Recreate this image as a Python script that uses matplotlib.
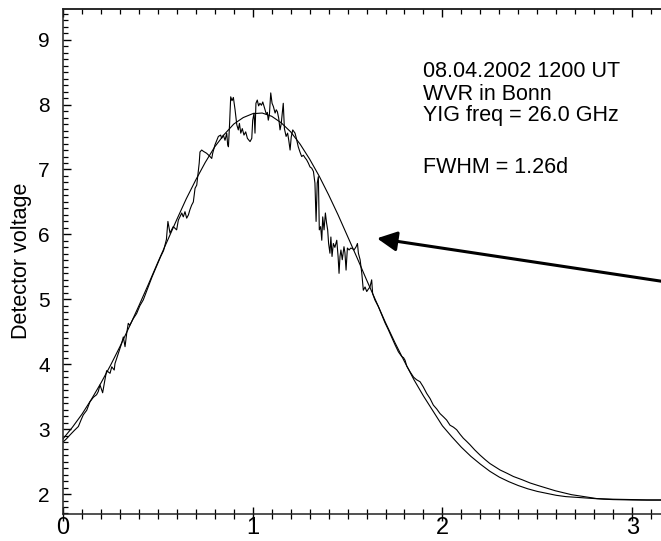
import numpy as np
import matplotlib
matplotlib.use("Agg")
import matplotlib.pyplot as plt
from matplotlib.ticker import MultipleLocator

plt.rcParams["font.family"] = ["Liberation Sans", "DejaVu Sans"]

t_meas = [0.000, 0.018, 0.037, 0.060, 0.081, 0.095, 0.107, 0.125, 0.142, 0.160,
          0.177, 0.186, 0.195, 0.209, 0.221, 0.230, 0.248, 0.257, 0.270, 0.274,
          0.292, 0.309, 0.318, 0.327, 0.336, 0.344, 0.352, 0.370, 0.388, 0.405,
          0.423, 0.445, 0.470, 0.495, 0.515, 0.530, 0.545, 0.553, 0.564, 0.581,
          0.599, 0.608, 0.626, 0.634, 0.643, 0.652, 0.661, 0.669, 0.678, 0.687,
          0.696, 0.705, 0.710, 0.718, 0.722, 0.731, 0.740, 0.757, 0.775, 0.784,
          0.789, 0.801, 0.819, 0.831, 0.836, 0.845, 0.854, 0.863, 0.868, 0.872,
          0.878, 0.884, 0.891, 0.898, 0.907, 0.916, 0.924, 0.930, 0.937, 0.945,
          0.954, 0.963, 0.972, 0.986, 0.995, 1.000, 1.007, 1.012, 1.017, 1.024,
          1.031, 1.038, 1.046, 1.053, 1.060, 1.065, 1.072, 1.077, 1.082, 1.088,
          1.095, 1.102, 1.109, 1.118, 1.124, 1.130, 1.137, 1.144, 1.150, 1.161,
          1.167, 1.176, 1.184, 1.190, 1.197, 1.203, 1.211, 1.223, 1.230, 1.240,
          1.249, 1.258, 1.267, 1.276, 1.284, 1.293, 1.302, 1.311, 1.320, 1.328,
          1.334, 1.340, 1.346, 1.351, 1.358, 1.364, 1.369, 1.376, 1.383, 1.389,
          1.395, 1.400, 1.407, 1.412, 1.418, 1.425, 1.433, 1.443, 1.450, 1.455,
          1.460, 1.465, 1.472, 1.481, 1.486, 1.492, 1.499, 1.508, 1.517, 1.526,
          1.534, 1.545, 1.552, 1.557, 1.566, 1.575, 1.583, 1.592, 1.601, 1.610,
          1.618, 1.627, 1.632, 1.644, 1.662, 1.680, 1.697, 1.715, 1.733, 1.750,
          1.768, 1.785, 1.795, 1.803, 1.812, 1.830, 1.848, 1.864, 1.882, 1.899,
          1.917, 1.935, 1.952, 1.970, 1.987, 2.005, 2.022, 2.040, 2.058, 2.075,
          2.093, 2.110, 2.128, 2.145, 2.170, 2.198, 2.225, 2.250, 2.277, 2.304,
          2.340, 2.374, 2.420, 2.462, 2.505, 2.550, 2.595, 2.637, 2.680, 2.725,
          2.770, 2.813, 2.860, 2.900, 2.990, 3.077, 3.150]
v_meas = [2.80, 2.85, 2.91, 2.98, 3.04, 3.14, 3.22, 3.29, 3.42, 3.49,
          3.53, 3.58, 3.68, 3.56, 3.76, 3.90, 3.86, 3.96, 3.91, 4.01,
          4.17, 4.32, 4.42, 4.27, 4.48, 4.63, 4.60, 4.70, 4.78, 4.90,
          4.99, 5.16, 5.35, 5.52, 5.66, 5.75, 5.92, 6.20, 6.02, 6.12,
          6.07, 6.22, 6.33, 6.27, 6.35, 6.25, 6.30, 6.38, 6.45, 6.50,
          6.71, 6.76, 6.89, 7.10, 7.27, 7.30, 7.28, 7.25, 7.20, 7.17,
          7.25, 7.38, 7.51, 7.53, 7.48, 7.53, 7.45, 7.56, 7.38, 7.35,
          7.70, 8.12, 8.06, 8.11, 7.92, 7.69, 7.61, 7.71, 7.56, 7.63,
          7.53, 7.58, 7.48, 7.43, 7.48, 7.76, 7.87, 7.56, 8.02, 8.07,
          7.98, 8.02, 7.99, 8.04, 7.97, 7.92, 7.85, 7.88, 7.76, 7.85,
          8.18, 8.02, 7.97, 7.87, 7.92, 7.89, 7.79, 7.61, 7.70, 8.02,
          7.63, 7.51, 7.56, 7.45, 7.30, 7.50, 7.61, 7.56, 7.48, 7.35,
          7.27, 7.20, 7.22, 7.18, 7.15, 7.10, 7.04, 7.02, 6.97, 6.79,
          6.20, 6.79, 6.89, 6.07, 6.12, 5.91, 6.27, 6.07, 6.33, 6.18,
          6.07, 5.86, 5.71, 5.96, 5.66, 5.86, 5.80, 5.91, 5.66, 5.40,
          5.66, 5.76, 5.61, 5.81, 5.72, 5.45, 5.79, 5.76, 5.79, 5.78,
          5.76, 5.81, 5.86, 5.71, 5.61, 5.40, 5.14, 5.19, 5.12, 5.16,
          5.19, 5.30, 5.09, 4.99, 4.89, 4.76, 4.64, 4.53, 4.41, 4.30,
          4.19, 4.12, 4.10, 4.06, 3.97, 3.88, 3.80, 3.76, 3.73, 3.65,
          3.55, 3.47, 3.37, 3.31, 3.24, 3.19, 3.14, 3.06, 3.03, 2.99,
          2.92, 2.86, 2.81, 2.76, 2.68, 2.60, 2.53, 2.47, 2.42, 2.37,
          2.32, 2.27, 2.22, 2.17, 2.13, 2.09, 2.05, 2.02, 1.99, 1.97,
          1.95, 1.93, 1.925, 1.92, 1.915, 1.91, 1.91]

# fitted curve (every 0.05 d)
t_fit = [0.00, 0.05, 0.10, 0.15, 0.20, 0.25, 0.30, 0.35, 0.40, 0.45,
         0.50, 0.55, 0.60, 0.65, 0.70, 0.75, 0.80, 0.85, 0.90, 0.95,
         1.00, 1.05, 1.10, 1.15, 1.20, 1.25, 1.30, 1.35, 1.40, 1.45,
         1.50, 1.55, 1.60, 1.65, 1.70, 1.75, 1.80, 1.85, 1.90, 1.95,
         2.00, 2.05, 2.10, 2.15, 2.20, 2.25, 2.30, 2.35, 2.40, 2.45,
         2.50, 2.55, 2.60, 2.65, 2.70, 2.75, 2.80, 2.85, 2.90, 2.95,
         3.00, 3.05, 3.10, 3.15]
v_fit = [2.85, 3.03, 3.23, 3.46, 3.71, 3.98, 4.27, 4.58, 4.90, 5.23,
         5.57, 5.90, 6.23, 6.55, 6.84, 7.11, 7.35, 7.54, 7.70, 7.80,
         7.86, 7.87, 7.82, 7.72, 7.58, 7.39, 7.16, 6.90, 6.61, 6.30,
         5.97, 5.64, 5.30, 4.97, 4.64, 4.33, 4.04, 3.76, 3.51, 3.28,
         3.05, 2.88, 2.72, 2.58, 2.46, 2.35, 2.26, 2.19, 2.13, 2.08,
         2.04, 2.01, 1.98, 1.96, 1.95, 1.94, 1.93, 1.92, 1.914, 1.911,
         1.908, 1.906, 1.905, 1.905]

info_lines = ["08.04.2002 1200 UT", "WVR in Bonn", "YIG freq = 26.0 GHz"]
fwhm_text = "FWHM = 1.26d"

fig = plt.figure(figsize=(6.61, 5.41), dpi=100)
ax = fig.add_axes([0.0953, 0.0499, 0.9047, 0.9342])

ax.plot(t_meas, v_meas, color="black", lw=0.8)
ax.plot(t_fit, v_fit, color="black", lw=0.8)

ax.set_xlim(0, 3.152)
ax.set_ylim(1.692, 9.479)

ax.xaxis.set_major_locator(MultipleLocator(1))
ax.xaxis.set_minor_locator(MultipleLocator(0.1))
ax.yaxis.set_major_locator(MultipleLocator(1))
ax.yaxis.set_minor_locator(MultipleLocator(0.1))

for s in ["left", "bottom", "top"]:
    ax.spines[s].set_linewidth(1.1)
    ax.spines[s].set_color("#222222")
ax.spines["right"].set_visible(False)

ax.tick_params(axis="x", which="major", direction="inout", length=10, width=1.0,
               labelsize=17, pad=-2.9, top=False)
ax.tick_params(axis="x", which="minor", direction="inout", length=6.5, width=0.9, top=False)
ax.tick_params(axis="y", which="major", direction="in", length=6, width=1.0,
               labelsize=15, pad=9.5, right=False)
ax.tick_params(axis="y", which="minor", direction="in", length=3.6, width=0.9, right=False)

# top axis: ticks only, pointing in
top = ax.secondary_xaxis("top")
top.xaxis.set_major_locator(MultipleLocator(1))
top.xaxis.set_minor_locator(MultipleLocator(0.1))
top.tick_params(which="major", direction="in", length=6, width=1.0, labeltop=False)
top.tick_params(which="minor", direction="in", length=3.6, width=0.9)
top.spines["top"].set_linewidth(1.1)
top.spines["top"].set_color("#222222")

ax.set_ylabel("Detector voltage", fontsize=15.5)
ax.yaxis.set_label_coords(-0.052, 0.5)

for txt, yb in zip(info_lines, [8.43, 8.07, 7.74]):
    ax.text(1.898, yb, txt, fontsize=15.5, va="baseline", ha="left")
ax.text(1.898, 6.94, fwhm_text, fontsize=15.5, va="baseline", ha="left")

ax.annotate("", xy=(1.655, 5.94), xytext=(3.40, 5.17),
            arrowprops=dict(arrowstyle="-|>,head_length=0.5,head_width=0.25",
                            lw=2.2, color="black", mutation_scale=24,
                            shrinkA=0, shrinkB=0),
            annotation_clip=False)

fig.savefig("out.png", dpi=100)
